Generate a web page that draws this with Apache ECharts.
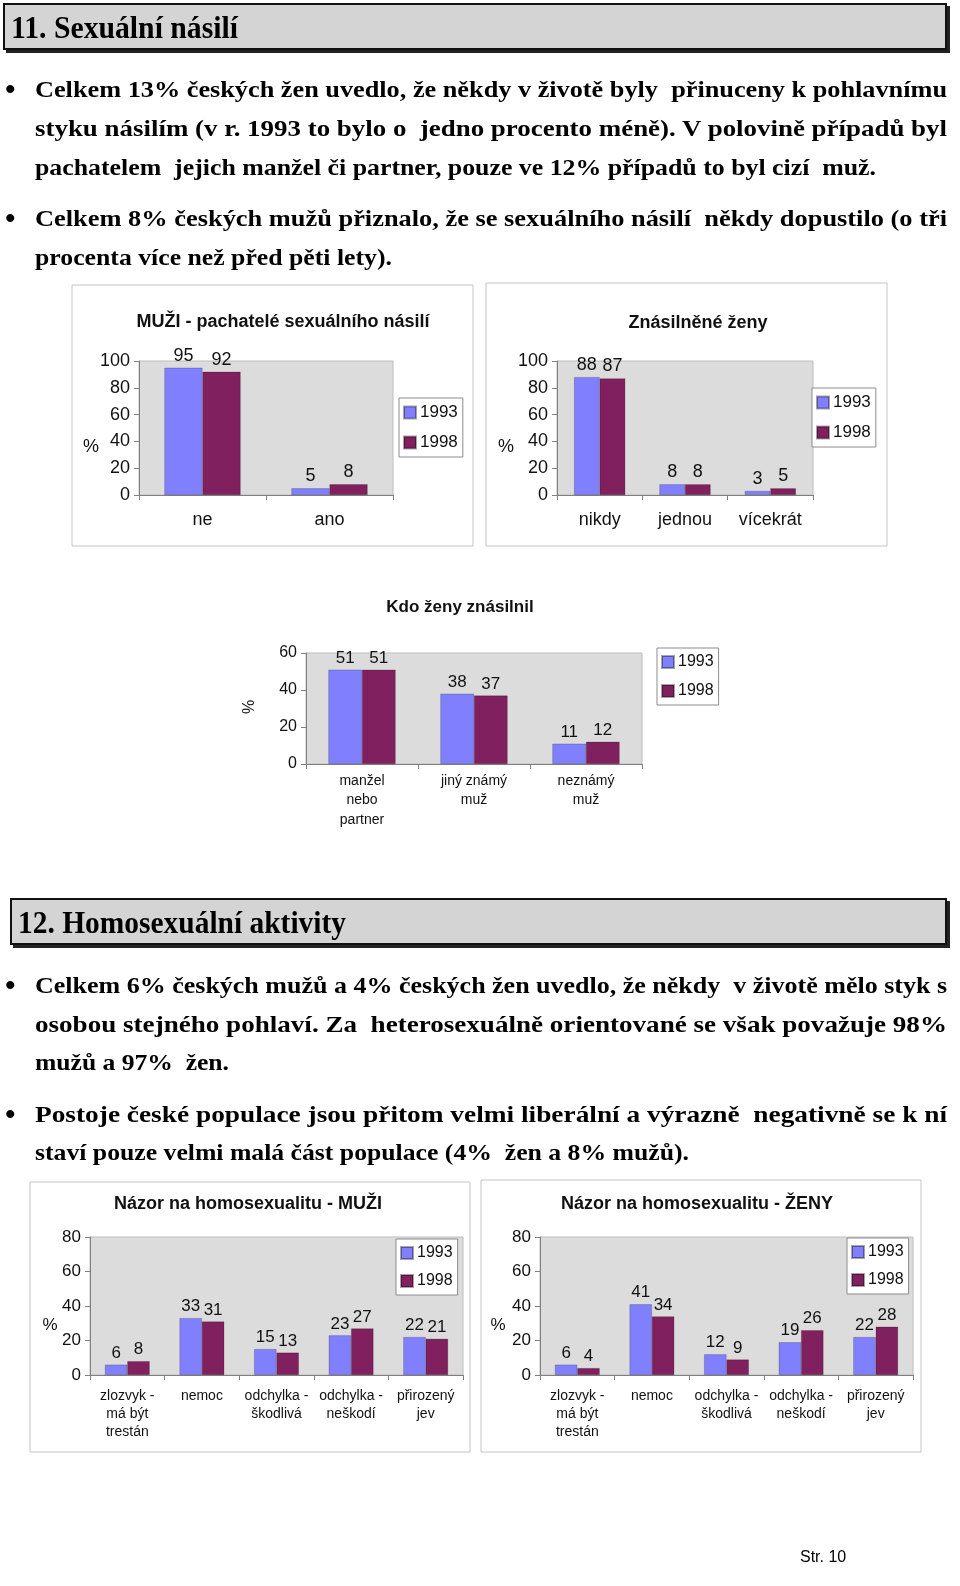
<!DOCTYPE html>
<html>
<head>
<meta charset="utf-8">
<script src="https://cdn.jsdelivr.net/npm/echarts@6/dist/echarts.min.js"></script>
<style>
html,body{margin:0;padding:0;background:#fff;}
#page{position:relative;width:960px;height:1586px;overflow:hidden;background:#fff;}
.hdr{position:absolute;background:#d4d4d4;border:2px solid #111;box-shadow:3px 3px 0 #222;box-sizing:border-box;}
.hdr span{position:absolute;left:6px;top:50%;transform-origin:left center;white-space:pre;font-family:"Liberation Serif","Times New Roman",serif;font-weight:bold;font-size:32px;color:#000;line-height:34px;margin-top:-17px;}
.ln{position:absolute;left:35px;height:30px;line-height:30px;font-family:"Liberation Serif","Times New Roman",serif;font-weight:bold;font-size:24px;color:#000;white-space:pre;transform-origin:left center;}
.bul{position:absolute;left:5px;height:30px;line-height:30px;font-family:"Liberation Serif",serif;font-weight:bold;font-size:30px;color:#000;}
#chart{position:absolute;left:0;top:0;width:960px;height:1586px;}
#foot{position:absolute;left:800px;top:1548px;font-family:"Liberation Sans",Arial,sans-serif;font-size:16px;color:#000;}
</style>
</head>
<body>
<div id="page">
  <div id="chart"></div>
</div>
<script>
// ---------- DATA ----------
const years = ['1993', '1998'];

const cat1 = ['ne', 'ano'];
const men1993 = [95, 5];
const men1998 = [92, 8];

const cat2 = ['nikdy', 'jednou', 'vícekrát'];
const women1993 = [88, 8, 3];
const women1998 = [87, 8, 5];

const cat3 = ['manžel\nnebo\npartner', 'jiný známý\nmuž', 'neznámý\nmuž'];
const who1993 = [51, 38, 11];
const who1998 = [51, 37, 12];

const cat4 = ['zlozvyk -\nmá být\ntrestán', 'nemoc', 'odchylka -\nškodlivá', 'odchylka -\nneškodí', 'přirozený\njev'];
const homoMen1993 = [6, 33, 15, 23, 22];
const homoMen1998 = [8, 31, 13, 27, 21];
const homoWomen1993 = [6, 41, 12, 19, 22];
const homoWomen1998 = [4, 34, 9, 26, 28];

const titles = ['MUŽI - pachatelé sexuálního násilí', 'Znásilněné ženy', 'Kdo ženy znásilnil',
                'Názor na homosexualitu - MUŽI', 'Názor na homosexualitu - ŽENY'];

// ---------- TEXT ----------
const page = document.getElementById('page');
function header(x, y, w, h, text, tw) {
  const d = document.createElement('div');
  d.className = 'hdr';
  d.style.cssText = `left:${x}px;top:${y}px;width:${w}px;height:${h}px;`;
  const s = document.createElement('span');
  s.textContent = text;
  d.appendChild(s);
  page.appendChild(d);
  const nw = s.getBoundingClientRect().width;
  s.style.transform = `scaleX(${tw / nw})`;
}
header(3, 3, 944, 47, '11. Sexuální násilí', 227);
header(10, 898, 937, 47, '12. Homosexuální aktivity', 328);

const lines = [
  {y: 89, t: 'Celkem 13% českých žen uvedlo, že někdy v životě byly  přinuceny k pohlavnímu', r: 947, b: true},
  {y: 128, t: 'styku násilím (v r. 1993 to bylo o  jedno procento méně). V polovině případů byl', r: 947},
  {y: 167, t: 'pachatelem  jejich manžel či partner, pouze ve 12% případů to byl cizí  muž.', r: 876},
  {y: 218, t: 'Celkem 8% českých mužů přiznalo, že se sexuálního násilí  někdy dopustilo (o tři', r: 947, b: true},
  {y: 257, t: 'procenta více než před pěti lety).', r: 392},
  {y: 985, t: 'Celkem 6% českých mužů a 4% českých žen uvedlo, že někdy  v životě mělo styk s', r: 947, b: true},
  {y: 1024, t: 'osobou stejného pohlaví. Za  heterosexuálně orientované se však považuje 98%', r: 947},
  {y: 1062, t: 'mužů a 97%  žen.', r: 229},
  {y: 1114, t: 'Postoje české populace jsou přitom velmi liberální a výrazně  negativně se k ní', r: 947, b: true},
  {y: 1152, t: 'staví pouze velmi malá část populace (4%  žen a 8% mužů).', r: 689}
];
lines.forEach(l => {
  const d = document.createElement('div');
  d.className = 'ln';
  d.style.top = (l.y - 15) + 'px';
  d.textContent = l.t;
  page.appendChild(d);
  const nw = d.getBoundingClientRect().width;
  d.style.transform = `scaleX(${(l.r - 35) / nw})`;
  if (l.b) {
    const b = document.createElement('div');
    b.className = 'bul';
    b.style.top = (l.y - 15) + 'px';
    b.textContent = '•';
    page.appendChild(b);
  }
});
const foot = document.createElement('div');
foot.id = 'foot';
foot.textContent = 'Str. 10';
page.appendChild(foot);

// ---------- CHART ----------
const FONT = '"Liberation Sans", Arial, sans-serif';
const C93 = '#8080ff', C98 = '#80205e';

const grids = [
  {left: 139, top: 361, width: 254, height: 134},
  {left: 557, top: 361, width: 256, height: 134},
  {left: 306, top: 653, width: 336, height: 111},
  {left: 90, top: 1237, width: 373, height: 138},
  {left: 540, top: 1237, width: 373, height: 138}
];
const cats = [cat1, cat2, cat3, cat4, cat4];
const vals = [[men1993, men1998], [women1993, women1998], [who1993, who1998],
              [homoMen1993, homoMen1998], [homoWomen1993, homoWomen1998]];
const yMax = [100, 100, 60, 80, 80];
const axFont = [18, 18, 16, 17, 17];
const catFont = [18, 18, 14, 14, 14];
const catMargin = [15, 15, 7, 12, 12];
const catLH = [20, 20, 19.5, 18, 18];
const lblFont = [18, 18, 17, 17, 17];

const xAxis = [], yAxis = [], series = [];
grids.forEach((g, i) => {
  xAxis.push({
    type: 'category', gridIndex: i, data: cats[i],
    axisLine: {lineStyle: {color: '#808080', width: 1}},
    axisTick: {show: true, alignWithLabel: false, length: 5, lineStyle: {color: '#808080'}},
    axisLabel: {interval: 0, color: '#111', fontFamily: FONT, fontSize: catFont[i],
                margin: catMargin[i], lineHeight: catLH[i]}
  });
  yAxis.push({
    type: 'value', gridIndex: i, min: 0, max: yMax[i], interval: 20,
    axisLine: {show: true, lineStyle: {color: '#808080', width: 1}},
    axisTick: {show: true, length: 5, lineStyle: {color: '#808080'}},
    splitLine: {show: false},
    axisLabel: {color: '#111', fontFamily: FONT, fontSize: axFont[i], margin: 9}
  });
  years.forEach((yr, k) => {
    series.push({
      type: 'bar', name: yr, xAxisIndex: i, yAxisIndex: i, data: vals[i][k],
      barGap: '0%', barCategoryGap: '40%',
      itemStyle: {color: k === 0 ? C93 : C98, borderColor: 'rgba(0,0,0,0.35)', borderWidth: 0.6},
      label: {show: true, position: 'top', distance: 3, color: '#111', fontFamily: FONT, fontSize: lblFont[i]},
      emphasis: {disabled: true}, animation: false
    });
  });
});

const legendPos = [
  {left: 399, top: 398, fs: 17, gap: 13},
  {left: 812, top: 388, fs: 17, gap: 13},
  {left: 657, top: 648, fs: 16, gap: 13},
  {left: 396, top: 1239, fs: 16, gap: 12},
  {left: 847, top: 1238, fs: 16, gap: 12}
];
const legend = legendPos.map(p => ({
  data: years, orient: 'vertical', left: p.left, top: p.top,
  backgroundColor: '#fff', borderColor: '#8c8c8c', borderWidth: 1,
  padding: [6, 5, 6, 4], itemGap: p.gap, itemWidth: 12, itemHeight: 12, icon: 'rect',
  selectedMode: false,
  textStyle: {color: '#111', fontFamily: FONT, fontSize: p.fs, padding: [0, 0, 0, -1]}
}));

const titlePos = [[283, 322, 18], [698, 323, 18], [460, 607, 17], [248, 1204, 18], [697, 1204, 18]];
const graphic = [];
// frames
[[72, 285, 401, 261], [486, 283, 401, 263], [30, 1182, 440, 270], [481, 1180, 440, 272]].forEach(f => {
  graphic.push({type: 'rect', shape: {x: f[0], y: f[1], width: f[2], height: f[3]},
    style: {fill: null, stroke: '#c4c4c4', lineWidth: 1}, silent: true, z: -1});
});
titlePos.forEach((t, i) => {
  graphic.push({type: 'text', x: t[0], y: t[1], style: {text: titles[i], fill: '#111',
    font: `bold ${t[2]}px ${FONT}`, textAlign: 'center', textVerticalAlign: 'middle'}, silent: true});
});
[[91, 447, 18, 0], [506, 447, 18, 0], [250, 707, 16, Math.PI / 2], [50, 1325, 17, 0], [498, 1325, 17, 0]].forEach(p => {
  graphic.push({type: 'text', x: p[0], y: p[1], rotation: p[3], style: {text: '%', fill: '#111',
    font: `${p[2]}px ${FONT}`, textAlign: 'center', textVerticalAlign: 'middle'}, silent: true});
});

const chart = echarts.init(document.getElementById('chart'), null, {renderer: 'canvas'});
chart.setOption({
  animation: false,
  grid: grids.map(g => Object.assign({show: true, backgroundColor: '#dcdcdc', borderColor: '#bdbdbd', borderWidth: 1, containLabel: false}, g)),
  xAxis, yAxis, series, legend, graphic
});
</script>
</body>
</html>
